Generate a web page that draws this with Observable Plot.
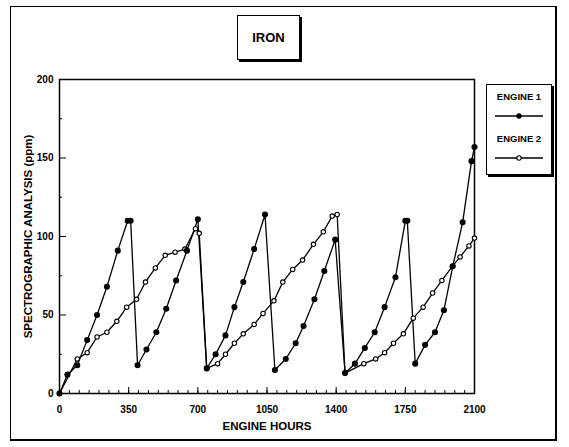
<!DOCTYPE html>
<html><head><meta charset="utf-8">
<script src="https://cdn.jsdelivr.net/npm/d3@7"></script>
<script src="https://cdn.jsdelivr.net/npm/@observablehq/plot@0.6"></script>
<style>
body{margin:0;background:#fff;}
#wrap{position:relative;width:569px;height:447px;font-family:"Liberation Sans",Arial,sans-serif;font-weight:bold;color:#000;overflow:hidden;}
#chart{position:absolute;left:0;top:0;}
#border{position:absolute;left:10px;top:6px;width:544px;height:432px;border:1.5px solid #000;border-right-width:2.5px;border-bottom-width:2px;}
#title{position:absolute;left:237px;top:15px;width:61px;height:43px;border:1.5px solid #000;box-shadow:2px 2px 0 #000;display:flex;align-items:center;justify-content:center;font-size:13px;background:#fff;}
#legend{position:absolute;left:486px;top:84px;width:64px;height:89px;border:1.5px solid #000;box-shadow:2px 2px 0 #000;background:#fff;font-size:9.5px;}
.lt{position:absolute;left:0;width:64px;text-align:center;}
.ls{position:absolute;left:8px;}
</style></head><body>
<div id="wrap">
  <div id="border"></div>
  <div id="chart"></div>
  <div id="title">IRON</div>
  <div id="legend"></div>
</div>
<script>
const seriesNames = ["ENGINE 1", "ENGINE 2"];
const hours1 = [0,40,90,140,190,240,295,345,360,395,440,490,540,590,645,700,745,790,840,885,930,985,1040,1090,1145,1195,1235,1290,1340,1395,1445,1495,1545,1595,1645,1700,1750,1760,1800,1850,1900,1945,1990,2040,2085,2100];
const iron1  = [0,12,18,34,50,68,91,110,110,18,28,39,54,72,91,111,16,25,37,55,71,92,114,15,22,32,43,60,78,98,13,19,29,39,55,74,110,110,19,31,39,53,81,109,148,157];
const hours2 = [0,90,140,190,240,290,340,390,435,485,535,585,635,688,707,745,800,840,885,930,985,1030,1085,1130,1180,1230,1285,1335,1380,1405,1445,1540,1600,1645,1690,1740,1790,1840,1888,1935,1988,2027,2072,2100];
const iron2  = [0,22,26,36,39,46,55,60,71,80,88,90,92,105,102,16,19,25,32,38,44,51,59,71,79,85,95,103,113,114,13,19,22,26,32,38,48,55,64,72,81,87,94,99];
const xTicks = [0,350,700,1050,1400,1750,2100];
const yTicks = [0,50,100,150,200];
const xMinor = d3.range(0, 2101, 50);
const yMinor = [25,75,125,175];

const chart = Plot.plot({
  width: 569, height: 447,
  marginLeft: 59, marginRight: 95, marginTop: 79, marginBottom: 54,
  style: {fontFamily: '"Liberation Sans", Arial, sans-serif', fontWeight: "bold", fontSize: "10px", background: "transparent", color: "#000"},
  x: {domain: [0, 2100]},
  y: {domain: [0, 200]},
  marks: [
    Plot.frame({stroke: "#000", strokeWidth: 1.5}),
    Plot.axisX(xMinor, {tickSize: -3, tickFormat: () => "", label: null}),
    Plot.axisX(xTicks, {tickSize: -6, tickFormat: () => "", label: null}),
    Plot.axisX(xTicks, {tickSize: 0, tickPadding: 12, fontSize: 10, tickFormat: d => String(d), label: "ENGINE HOURS", labelAnchor: "center", labelArrow: "none", labelOffset: 36}),
    Plot.axisY(yMinor, {tickSize: -3, tickFormat: () => "", label: null}),
    Plot.axisY(yTicks, {tickSize: -7, tickFormat: () => "", label: null}),
    Plot.axisY(yTicks, {tickSize: 0, tickPadding: 6, fontSize: 10, tickFormat: d => String(d), label: "SPECTROGRAPHIC ANALYSIS (ppm)", labelAnchor: "center", labelArrow: "none", labelOffset: 36}),
    Plot.line(iron2, {x: hours2, y: iron2, stroke: "#000", strokeWidth: 1.3}),
    Plot.line(iron1, {x: hours1, y: iron1, stroke: "#000", strokeWidth: 1.3}),
    Plot.dot(iron2, {x: hours2, y: iron2, r: 2.2, fill: "#fff", stroke: "#000", strokeWidth: 1.1}),
    Plot.dot(iron1, {x: hours1, y: iron1, r: 2.3, fill: "#000", stroke: "#000"})
  ]
});
chart.querySelectorAll('[aria-label="x-axis label"] text, [aria-label="y-axis label"] text').forEach(t => t.setAttribute("font-size", "11.5"));
document.getElementById("chart").appendChild(chart);

const leg = document.getElementById("legend");
seriesNames.forEach((name, i) => {
  const t = document.createElement("div");
  t.className = "lt"; t.textContent = name; t.style.top = (6 + i * 42) + "px";
  leg.appendChild(t);
  const s = document.createElementNS("http://www.w3.org/2000/svg", "svg");
  s.setAttribute("class", "ls"); s.setAttribute("width", "48"); s.setAttribute("height", "8");
  s.style.top = (27 + i * 42) + "px";
  s.innerHTML = `<line x1="0" x2="48" y1="4" y2="4" stroke="#000" stroke-width="1.3"/>` +
    `<circle cx="24" cy="4" r="2.2" fill="${i === 0 ? "#000" : "#fff"}" stroke="#000" stroke-width="1.1"/>`;
  leg.appendChild(s);
});
</script>
</body></html>
